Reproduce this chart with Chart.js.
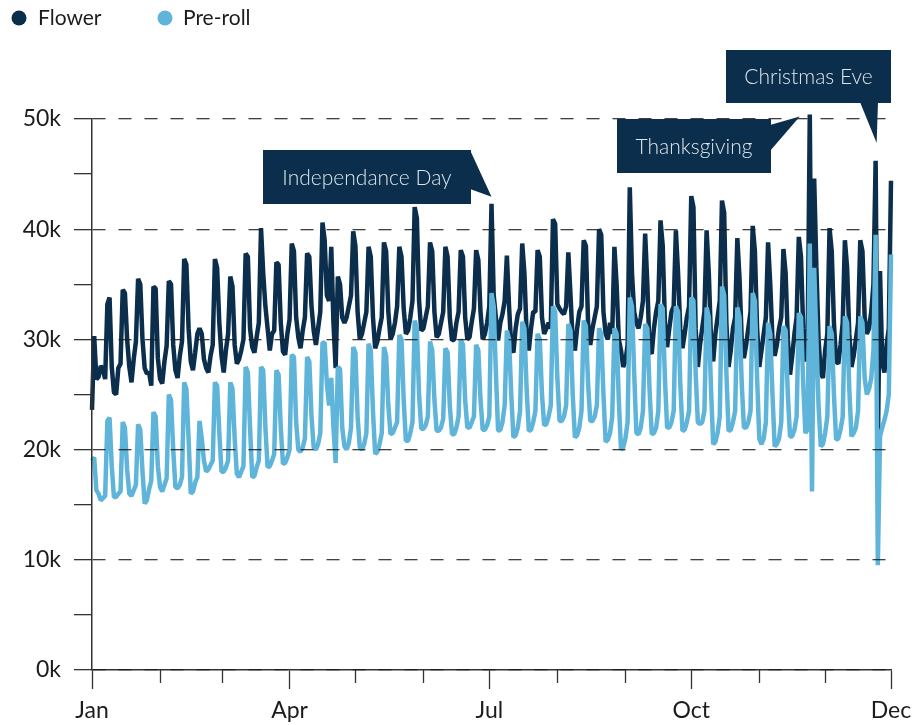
<!DOCTYPE html>
<html>
<head>
<meta charset="utf-8">
<script src="https://cdn.jsdelivr.net/npm/chart.js@4.4.1/dist/chart.umd.min.js"></script>
<style>
  html, body { margin: 0; padding: 0; background: #ffffff; }
  #wrap { width: 923px; height: 725px; }
</style>
</head>
<body>
<div id="wrap"><canvas id="chart" width="923" height="725"></canvas></div>
<script>
// Daily sales (thousands), one row per week, Friday through Thursday.
const flower = [
  23.6, 30.3, 26.4, 26.6, 27.6, 27.2, 26.4,
  33.2, 33.8, 27.5, 25.2, 25.0, 27.4, 27.8,
  34.5, 34.2, 30.0, 27.5, 26.1, 28.2, 29.8,
  35.5, 35.0, 30.0, 27.4, 26.9, 27.0, 25.8,
  34.8, 34.6, 28.3, 26.4, 26.0, 28.0, 29.4,
  35.3, 35.0, 29.5, 27.2, 26.5, 28.5, 29.8,
  37.3, 36.8, 31.0, 28.0, 27.2, 28.8, 30.5,
  31.0, 30.5, 28.2, 27.4, 27.0, 28.5, 29.5,
  37.3, 36.5, 31.5, 28.5, 27.0, 29.0, 30.5,
  35.7, 34.8, 29.5, 27.8, 28.2, 29.0, 30.0,
  37.8, 37.5, 31.0, 29.3, 28.8, 30.2, 31.5,
  40.1, 36.0, 33.0, 31.0, 29.0, 30.5, 30.8,
  37.0, 36.8, 31.5, 28.9, 28.6, 30.5, 31.8,
  38.7, 38.0, 32.0, 30.2, 29.2, 30.8, 32.0,
  37.8, 37.5, 33.0, 30.8, 29.5, 31.0, 32.5,
  40.6, 39.0, 34.0, 33.5, 38.4, 31.5, 27.4,
  35.7, 35.0, 32.0, 31.5, 32.0, 33.0, 34.0,
  39.8, 38.5, 32.5, 30.0, 30.5, 31.5, 32.5,
  38.4, 37.5, 32.0, 29.2, 29.8, 31.0, 32.0,
  38.8, 38.0, 32.5, 30.0, 30.5, 31.5, 33.0,
  38.4, 37.5, 32.8, 30.5, 30.8, 32.0, 33.5,
  42.0, 41.0, 33.5, 30.8, 31.0, 32.0, 33.0,
  38.8, 38.0, 32.5, 30.2, 30.5, 31.5, 32.5,
  38.4, 37.5, 32.0, 29.9, 30.0, 31.5, 32.5,
  38.1, 37.5, 32.0, 30.0, 30.2, 31.6, 32.8,
  38.1, 37.2, 32.5, 30.0, 30.5, 31.5, 33.0,
  42.3, 34.0, 32.0, 29.9, 31.5, 32.3, 33.5,
  37.6, 33.0, 29.3, 28.8, 31.0, 32.3, 32.8,
  38.7, 36.0, 30.5, 29.0, 31.0, 32.5, 32.5,
  38.1, 37.5, 32.0, 30.5, 31.0, 31.5, 31.0,
  40.9, 40.5, 33.2, 32.8, 32.5, 32.3, 33.0,
  37.9, 34.0, 29.8, 29.0, 31.0, 32.5, 33.0,
  39.0, 38.5, 31.5, 29.5, 31.0, 32.0, 33.0,
  40.0, 39.5, 32.5, 30.5, 30.0, 31.5, 30.5,
  38.4, 35.0, 30.0, 29.0, 27.5, 28.0, 29.5,
  43.8, 36.0, 32.5, 31.5, 31.0, 32.0, 33.5,
  39.6, 35.0, 29.0, 28.7, 31.0, 32.5, 33.5,
  40.8, 38.5, 31.5, 29.3, 31.0, 32.5, 33.0,
  39.9, 36.0, 31.0, 29.2, 30.5, 32.0, 33.0,
  43.0, 42.0, 31.0, 27.5, 29.5, 31.0, 32.5,
  39.9, 36.0, 30.0, 28.0, 30.5, 32.0, 33.5,
  42.6, 41.5, 31.5, 27.5, 29.0, 31.0, 32.0,
  39.2, 35.5, 30.0, 28.3, 29.5, 31.0, 32.5,
  40.3, 38.0, 31.0, 27.5, 29.0, 30.5, 32.0,
  38.8, 35.0, 30.0, 28.5, 29.5, 31.0, 32.0,
  38.2, 36.0, 30.0, 26.8, 28.5, 30.5, 32.0,
  39.3, 37.5, 31.0, 28.0, 29.0, 50.4, 25.0,
  44.6, 36.6, 30.0, 27.0, 26.5, 29.0, 30.5,
  40.1, 38.0, 31.5, 28.0, 27.8, 29.5, 31.5,
  39.0, 36.5, 30.5, 27.5, 28.5, 30.0, 31.5,
  39.0, 38.0, 32.0, 30.5, 31.0, 32.5, 35.0,
  46.2, 20.0, 36.2, 28.0, 27.0, 29.5, 31.0,
  44.4
];

const preRoll = [
  19.0, 19.3, 16.3, 16.0, 15.4, 15.6, 15.8,
  22.6, 22.9, 18.5, 15.7, 15.7, 16.0, 16.2,
  22.5, 22.0, 18.2, 16.0, 15.8, 16.3, 16.8,
  22.3, 21.8, 18.0, 15.1, 15.4, 16.4, 17.2,
  23.4, 23.0, 18.5, 16.6, 16.2, 16.8, 17.4,
  25.0, 24.5, 20.0, 16.6, 16.5, 16.8, 17.5,
  26.1, 25.5, 21.0, 16.0, 16.2, 17.0, 17.5,
  22.6, 21.0, 19.0, 18.0, 18.2, 18.6, 19.0,
  26.1, 25.8, 21.5, 18.0, 18.0, 18.4, 19.0,
  26.1, 25.5, 21.0, 17.8, 17.5, 18.0, 18.5,
  27.5, 27.0, 22.0, 17.5, 17.6, 18.4, 19.0,
  27.5, 27.2, 22.0, 18.4, 18.5, 19.0, 19.6,
  27.2, 26.8, 22.0, 18.7, 18.8, 19.3, 20.0,
  28.6, 28.4, 22.5, 20.0, 19.8, 20.2, 21.0,
  28.4, 28.0, 23.0, 20.2, 20.0, 20.5, 21.5,
  29.7, 29.7, 26.0, 24.0, 26.5, 22.0, 18.8,
  27.5, 27.3, 22.0, 20.3, 20.0, 20.6, 22.0,
  29.3, 28.8, 23.0, 20.2, 20.0, 20.5, 21.5,
  29.6, 29.0, 23.5, 19.6, 19.8, 20.5, 21.5,
  29.3, 28.5, 24.0, 21.4, 21.5, 22.0, 22.5,
  30.4, 30.0, 24.5, 20.8, 20.8, 21.5, 22.5,
  31.7, 31.0, 25.0, 21.9, 21.9, 22.2, 23.0,
  29.8, 29.0, 24.5, 21.7, 21.7, 22.0, 22.8,
  29.2, 28.8, 24.0, 21.4, 21.4, 22.0, 23.0,
  30.0, 29.5, 24.5, 22.0, 22.0, 22.5, 23.0,
  29.5, 29.0, 24.5, 21.8, 21.8, 22.2, 23.0,
  34.2, 33.0, 27.0, 21.7, 21.8, 22.5, 24.0,
  30.8, 30.0, 25.0, 21.1, 21.3, 22.0, 23.5,
  31.6, 31.0, 25.5, 21.7, 21.8, 22.5, 23.5,
  30.5, 30.0, 25.0, 22.2, 22.3, 23.0, 24.0,
  33.0, 32.5, 26.5, 22.6, 22.6, 23.0, 24.0,
  31.4, 30.8, 25.0, 21.1, 21.3, 22.0, 23.5,
  31.7, 31.2, 26.0, 22.6, 22.6, 23.0, 24.0,
  31.0, 30.5, 25.0, 20.7, 20.9, 21.5, 23.0,
  31.0, 30.5, 24.5, 20.0, 20.2, 21.0, 22.5,
  33.8, 33.0, 27.0, 21.5, 21.4, 22.0, 23.5,
  31.4, 31.0, 25.5, 21.4, 21.5, 22.0, 23.5,
  33.2, 32.8, 26.5, 22.0, 22.0, 22.5, 23.5,
  33.0, 32.5, 26.0, 21.7, 21.8, 22.5, 23.5,
  33.8, 33.5, 27.0, 22.5, 22.3, 22.5, 23.5,
  32.9, 32.0, 25.5, 20.5, 20.7, 21.5, 23.0,
  34.8, 34.0, 27.0, 21.7, 21.8, 22.5, 23.5,
  32.9, 32.0, 26.0, 22.0, 22.0, 22.5, 23.5,
  34.2, 33.5, 26.5, 21.0, 20.5, 21.0, 22.5,
  31.5, 30.5, 25.0, 20.3, 20.5, 21.0, 22.5,
  31.2, 30.8, 25.0, 21.2, 21.2, 21.8, 23.0,
  32.4, 32.0, 26.0, 21.5, 21.8, 38.7, 16.2,
  36.5, 30.0, 24.0, 20.3, 20.5, 21.5, 23.0,
  31.2, 30.5, 25.0, 20.9, 21.0, 21.8, 23.0,
  32.1, 31.5, 25.5, 21.2, 21.5, 22.0, 23.5,
  32.1, 31.5, 26.5, 25.0, 25.5, 26.5, 29.0,
  39.5, 9.5, 21.2, 22.0, 22.7, 23.5, 25.0,
  37.7
];

// Axis: day-of-year positions of month starts, plus the last day.
const monthStarts = [0, 31, 59, 90, 120, 151, 181, 212, 243, 273, 304, 334, 364];
const monthNames = { 0: 'Jan', 90: 'Apr', 181: 'Jul', 273: 'Oct', 364: 'Dec' };
const yTickValues = [0, 5, 10, 15, 20, 25, 30, 35, 40, 45, 50];

// Callouts anchored to a day of the Flower series.
const callouts = [
  { label: 'Independance Day', day: 182 },
  { label: 'Thanksgiving', day: 327 },
  { label: 'Christmas Eve', day: 357 }
];

const NAVY = '#0a2e4b';
const SKY = '#5fb4d9';
const INK = '#1c1c1c';
const FONT = 'Lato, "Noto Sans", sans-serif';

// Box geometry for each callout (pixels): box rect, pointer base points, tip offset from the data point.
const calloutStyle = {
  'Independance Day': { box: [263, 150, 208, 54], base: [[470, 150], [470, 189]], tip: [0, -7] },
  'Thanksgiving': { box: [617, 119, 154, 54], base: [[770, 125], [770, 151]], tip: [-10, 2] },
  'Christmas Eve': { box: [726, 50, 165, 53], base: [[860, 102], [878, 102]], tip: [1, -18] }
};

const toPoints = arr => arr.map((v, i) => ({ x: i, y: v }));

const legendPlugin = {
  id: 'topLegend',
  afterDraw(chart) {
    const ctx = chart.ctx;
    const items = [
      { name: 'Flower', color: NAVY, dot: 19, text: 38 },
      { name: 'Pre-roll', color: SKY, dot: 165, text: 183 }
    ];
    ctx.save();
    ctx.font = '21px ' + FONT;
    ctx.textBaseline = 'middle';
    ctx.textAlign = 'left';
    items.forEach(it => {
      ctx.fillStyle = it.color;
      ctx.beginPath();
      ctx.arc(it.dot, 18, 7.5, 0, Math.PI * 2);
      ctx.fill();
      ctx.fillStyle = INK;
      ctx.fillText(it.name, it.text, 18);
    });
    ctx.restore();
  }
};

const minorTickPlugin = {
  id: 'minorTicks',
  afterDraw(chart) {
    const xs = chart.scales.x;
    const ctx = chart.ctx;
    const y0 = chart.chartArea.bottom;
    ctx.save();
    ctx.strokeStyle = '#333';
    ctx.lineWidth = 1.3;
    monthStarts.forEach(d => {
      if (monthNames[d]) return;
      const x = Math.round(xs.getPixelForValue(d)) + 0.5;
      ctx.beginPath();
      ctx.moveTo(x, y0);
      ctx.lineTo(x, y0 + 13);
      ctx.stroke();
    });
    ctx.restore();
  }
};

const calloutPlugin = {
  id: 'callouts',
  afterDraw(chart) {
    const xs = chart.scales.x, ys = chart.scales.y;
    const ctx = chart.ctx;
    ctx.save();
    callouts.forEach(c => {
      const st = calloutStyle[c.label];
      const px = xs.getPixelForValue(c.day) + st.tip[0];
      const py = ys.getPixelForValue(flower[c.day]) + st.tip[1];
      const [bx, by, bw, bh] = st.box;
      ctx.fillStyle = NAVY;
      ctx.fillRect(bx, by, bw, bh);
      ctx.beginPath();
      ctx.moveTo(st.base[0][0], st.base[0][1]);
      ctx.lineTo(px, py);
      ctx.lineTo(st.base[1][0], st.base[1][1]);
      ctx.closePath();
      ctx.fill();
      ctx.fillStyle = '#dde4ea';
      ctx.font = '300 21px ' + FONT;
      ctx.textAlign = 'center';
      ctx.textBaseline = 'middle';
      ctx.fillText(c.label, bx + bw / 2, by + bh / 2 + 1);
    });
    ctx.restore();
  }
};

new Chart(document.getElementById('chart'), {
  type: 'line',
  data: {
    datasets: [
      {
        label: 'Flower', data: toPoints(flower), borderColor: NAVY, backgroundColor: NAVY,
        borderWidth: 4.5, pointRadius: 0, tension: 0, order: 1, clip: false, borderJoinStyle: 'bevel'
      },
      {
        label: 'Pre-roll', data: toPoints(preRoll), borderColor: SKY, backgroundColor: SKY,
        borderWidth: 4.5, pointRadius: 0, tension: 0, order: 0, clip: false, borderJoinStyle: 'bevel'
      }
    ]
  },
  options: {
    responsive: false,
    animation: false,
    devicePixelRatio: 1,
    events: [],
    layout: { padding: { top: 119, right: 32, left: 0, bottom: 0 } },
    plugins: { legend: { display: false }, tooltip: { enabled: false } },
    scales: {
      x: {
        type: 'linear', min: 0, max: 364,
        afterBuildTicks: s => { s.ticks = monthStarts.map(v => ({ value: v })); },
        afterFit: s => { s.height = 55; },
        ticks: {
          autoSkip: false, maxRotation: 0, minRotation: 0, padding: 8,
          callback: v => monthNames[v] || '',
          font: { family: FONT, size: 23 }, color: INK
        },
        grid: {
          drawOnChartArea: false, drawTicks: true, tickLength: 19, tickWidth: 1.3,
          tickColor: c => (c.tick && monthNames[c.tick.value]) ? '#333' : 'rgba(0,0,0,0)'
        },
        border: { display: true, color: '#333', width: 1.5 }
      },
      y: {
        min: 0, max: 50,
        afterBuildTicks: s => { s.ticks = yTickValues.map(v => ({ value: v })); },
        afterFit: s => { s.width = 92; },
        ticks: {
          padding: 13, autoSkip: false,
          callback: v => (v % 10 === 0 ? v + 'k' : ''),
          font: { family: FONT, size: 23 }, color: INK
        },
        grid: {
          z: 1, lineWidth: 1.3, tickLength: 18, tickWidth: 1.3, tickColor: '#333',
          color: c => (c.tick && c.tick.value % 10 === 0) ? 'rgba(30,30,30,0.85)' : 'rgba(0,0,0,0)'
        },
        border: { display: true, z: 2, color: '#333', width: 1.5, dash: [13, 13] }
      }
    }
  },
  plugins: [legendPlugin, minorTickPlugin, calloutPlugin]
});
</script>
</body>
</html>
